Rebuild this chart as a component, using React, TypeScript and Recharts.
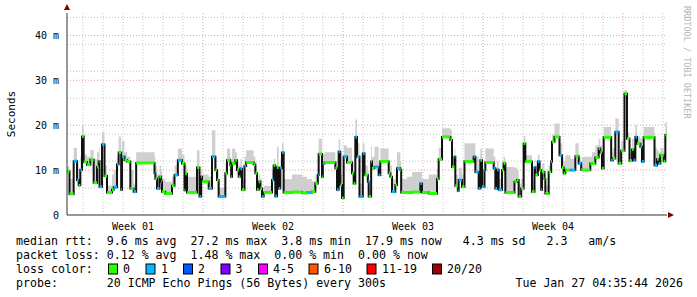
import { Area, CartesianGrid, ComposedChart, Line, ReferenceDot, ReferenceLine, XAxis, YAxis } from "recharts";

// time in hours since the start of the 30 day window
const hours = [
  0, 3, 8, 12, 14, 16, 18, 20, 24, 28, 32, 36, 38, 39, 42, 45, 48, 54, 56, 60,
  62, 65, 66, 69, 72, 76, 80, 83, 105, 106, 108, 111, 113, 114, 118, 126, 129, 133, 138, 141,
  142, 144, 156, 159, 161, 162, 170, 174, 178, 180, 182, 190, 192, 196, 197, 198, 202, 204, 206, 208,
  210, 213, 215, 224, 226, 228, 230, 232, 234, 236, 246, 248, 250, 252, 254, 256, 258, 260, 270, 282,
  288, 294, 298, 301, 302, 306, 307, 309, 322, 324, 326, 328, 330, 332, 336, 342, 344, 346, 348, 351,
  355, 357, 361, 362, 365, 366, 369, 374, 376, 386, 388, 390, 394, 396, 400, 401, 408, 414, 424, 426,
  434, 444, 446, 450, 460, 462, 465, 466, 469, 470, 474, 477, 488, 490, 494, 496, 498, 501, 502, 512,
  514, 516, 518, 522, 524, 526, 537, 540, 542, 545, 548, 550, 558, 561, 562, 565, 567, 569, 570, 573,
  574, 578, 581, 582, 585, 591, 594, 596, 598, 604, 610, 614, 617, 618, 628, 630, 634, 638, 640, 642,
  644, 653, 655, 658, 662, 665, 669, 672, 675, 678, 680, 682, 684, 688, 690, 692, 705, 708, 710, 712,
  716, 718, 720,
];

// median rtt in ms
const median = [
  9.7, 4.7, 12, 7.8, 6.6, 10, 17.5, 11.8, 11.2, 12.3, 7.2, 10.7, 12, 6.3, 15.7, 8.7, 5, 5.6, 6.2, 11.3,
  13.9, 5.6, 13, 12.2, 11.9, 5.9, 5.2, 11.6, 9.3, 8.1, 5.9, 8.5, 7.4, 5.2, 4.8, 6.5, 8.9, 12.2, 11.5, 5.5,
  9.2, 5, 10.6, 4.1, 8.5, 7.4, 5.9, 13, 10, 7.8, 4.1, 9.3, 12.2, 11.1, 8.5, 11.5, 12.2, 10, 8.5, 10.3,
  5.6, 10.9, 11.7, 11.3, 9.3, 5.6, 7.4, 5.9, 4.1, 5, 7.8, 11, 4.2, 10.6, 5.9, 10.4, 13.9, 5, 5.1, 4.9,
  5, 5.2, 7, 8.9, 13.6, 8.5, 11.5, 11.7, 10.4, 5.6, 14.1, 6.7, 3.8, 13, 11.7, 9.3, 7, 17.4, 13, 4.1,
  13.7, 8.9, 7.4, 4.1, 11.9, 10.4, 10.7, 8.9, 11.9, 9.3, 8.5, 5.2, 6.7, 10.4, 10, 5, 5, 5.1, 7, 5,
  4.8, 8, 12.4, 17.4, 16.7, 10.7, 13, 6.5, 5.4, 7.8, 6.3, 11.9, 13, 9.6, 5.9, 12.2, 6.3, 10, 11.7, 10.4,
  5.9, 10.1, 5.6, 10, 11.5, 5, 7.4, 7.8, 4.1, 5.9, 15.9, 11.9, 5.2, 10.6, 8.9, 11.9, 10, 5.6, 9.6, 8,
  4.8, 9.6, 11.9, 16.3, 17.4, 13.3, 10.6, 9.3, 10, 10, 13.1, 11.5, 10.1, 10, 11.5, 11.5, 12.8, 14.8, 13.9, 10.4,
  17.3, 12.2, 12.6, 18.5, 11.5, 14.3, 27, 17, 12.1, 14.6, 12.2, 17.4, 15.9, 15.2, 11.9, 17.3, 11.1, 12.4, 11.5, 13.3,
  12, 17.8, 17.8,
];

// upper edge of the smoke (slowest pings) in ms
const smokeTop = [
  10.8, 8, 15, 12, 10.5, 13, 20, 13.5, 13, 14.5, 12.5, 14, 15, 10, 18.5, 11, 6.5, 9, 10, 13,
  17.5, 8, 16.5, 14, 13, 10, 7, 14, 13, 11, 9, 11, 10, 8, 7.4, 8.5, 11, 14.8, 13.5, 8,
  11, 8.5, 14.4, 7, 10, 9, 8.5, 18.9, 13, 10, 6, 11.5, 14.8, 13, 11, 14.8, 14, 12, 11, 12.5,
  8, 13, 14.4, 13, 11, 8, 9, 8, 6, 6.5, 10, 12.5, 6, 15.2, 8, 12.5, 16, 8, 9, 8.5,
  8, 7.5, 9, 13, 17, 12, 13.5, 14, 12, 9, 16.8, 9, 6, 15.5, 15, 12, 9, 21.3, 16, 7,
  16, 11, 10, 6, 15.2, 13, 15.2, 12, 14.8, 12, 11, 8, 9, 14, 12, 8, 8.5, 9.6, 9.6, 8,
  9, 10, 15, 19.3, 19, 13, 15, 9, 8, 10.5, 9, 16, 16, 13, 9, 14.8, 9, 12, 14.8, 13,
  9, 12, 8, 12, 13, 10.7, 10.5, 10, 7, 8, 17.6, 13.3, 7.5, 12.5, 11, 13.5, 12, 8, 11.5, 10,
  6.5, 11, 14, 18, 20.4, 16, 13, 12, 13.3, 12.5, 16, 13, 12, 13, 13, 14, 15.5, 17, 15.5, 13,
  19.6, 14, 15, 21.5, 14, 16.5, 27.8, 18.5, 14, 17, 14, 20, 17.5, 17, 14, 19.6, 15, 14.5, 14, 15,
  14, 20.7, 20.7,
];

// lost pings out of 20 for each step
const loss = [
  0, 0, 1, 1, 0, 1, 0, 0, 0, 0, 0, 0, 0, 1, 1, 0, 0, 0, 1, 1,
  0, 1, 1, 0, 0, 0, 1, 0, 1, 0, 1, 0, 1, 0, 0, 0, 1, 1, 0, 0,
  0, 0, 0, 1, 0, 0, 1, 1, 0, 0, 1, 0, 0, 0, 1, 0, 0, 0, 0, 1,
  0, 1, 0, 0, 0, 0, 0, 0, 1, 0, 1, 0, 1, 0, 1, 1, 1, 0, 0, 0,
  1, 0, 0, 1, 0, 0, 1, 0, 0, 1, 1, 0, 0, 1, 0, 0, 0, 1, 1, 1,
  1, 0, 1, 0, 0, 0, 1, 1, 0, 0, 0, 1, 0, 1, 0, 0, 0, 0, 1, 0,
  0, 0, 0, 0, 0, 0, 1, 0, 1, 1, 0, 0, 1, 1, 1, 0, 1, 1, 0, 1,
  1, 1, 1, 0, 0, 0, 0, 0, 0, 0, 0, 0, 0, 1, 0, 1, 0, 1, 0, 0,
  0, 0, 0, 0, 0, 1, 0, 0, 0, 1, 0, 1, 0, 0, 0, 0, 0, 0, 0, 0,
  0, 1, 0, 1, 0, 0, 0, 0, 0, 0, 1, 1, 0, 1, 1, 0, 1, 0, 1, 0,
  0, 0, 0,
];

const lossColors = ["#26ff00", "#00b8ff", "#0059ff", "#7e00ff", "#ff00ff", "#ff5500", "#ff0000", "#a10000"];
const lossLabels = ["0", "1", "2", "3", "4-5", "6-10", "11-19", "20/20"];

const yTicks = [0, 10, 20, 30, 40];
const yMinor = [2, 4, 6, 8, 12, 14, 16, 18, 22, 24, 26, 28, 32, 34, 36, 38, 42, 44];
const weekTicks = [79.2, 247.2, 415.2, 583.2];
const weekLabels = ["Week 01", "Week 02", "Week 03", "Week 04"];
const weekLines = [163.2, 331.2, 499.2, 667.2];
const dayLines = [
  19.2, 43.2, 67.2, 91.2, 115.2, 139.2, 187.2, 211.2, 235.2, 259.2, 283.2, 307.2, 355.2, 379.2, 403.2,
  427.2, 451.2, 475.2, 523.2, 547.2, 571.2, 595.2, 619.2, 643.2, 691.2, 715.2,
];

const statsRtt = "median rtt:  9.6 ms avg  27.2 ms max  3.8 ms min  17.9 ms now   4.3 ms sd   2.3   am/s";
const statsLoss = "packet loss: 0.12 % avg  1.48 % max  0.00 % min  0.00 % now";
const probeText = "probe:       20 ICMP Echo Pings (56 Bytes) every 300s";
const stamp = "Tue Jan 27 04:35:44 2026";
const boxX = [108.5, 146, 183.5, 221, 258.5, 309, 367, 432.5];
const boxLabelX = [123, 161, 198, 235.5, 273, 324, 382, 447];

const rows = hours.map((h, i) => ({ h, median: median[i], smoke: [median[i], smokeTop[i]] }));

const mono = "'DejaVu Sans Mono', monospace";

const upArrow = (p: any) => (
  <path d={`M${p.cx - 3} ${p.cy - 3} L${p.cx} ${p.cy - 9} L${p.cx + 3} ${p.cy - 3} Z`} fill="#800000" />
);
const rightArrow = (p: any) => (
  <path d={`M${p.cx + 1} ${p.cy - 3} L${p.cx + 7} ${p.cy} L${p.cx + 1} ${p.cy + 3} Z`} fill="#800000" />
);

export default function App() {
  return (
    <div style={{ position: "absolute", left: 0, top: 0, width: 697, height: 297, background: "#fff" }}>
      <ComposedChart width={697} height={297} data={rows} margin={{ top: 13, right: 30, left: 7, bottom: 62 }}>
        <CartesianGrid
          horizontalValues={yMinor}
          verticalValues={dayLines}
          stroke="#c4c4c4"
          strokeDasharray="1 2"
        />
        <CartesianGrid
          horizontalValues={[10, 20, 30, 40]}
          verticalValues={weekLines}
          stroke="#e2a0a0"
          strokeDasharray="1 2"
        />
        <XAxis
          dataKey="h"
          type="number"
          domain={[0, 720]}
          ticks={weekTicks}
          tickFormatter={(v: number) => weekLabels[weekTicks.indexOf(v)]}
          tickLine={false}
          axisLine={{ stroke: "#333" }}
          height={20}
          tick={{ fontFamily: mono, fontSize: 10, fill: "#000" }}
        />
        <YAxis
          type="number"
          domain={[0, 45]}
          ticks={yTicks}
          allowDataOverflow
          tickFormatter={(v: number) => (v === 0 ? "0" : `${v} m`)}
          tickLine={false}
          axisLine={{ stroke: "#333" }}
          width={60}
          tick={{ fontFamily: mono, fontSize: 10, fill: "#000" }}
        />
        <Area
          dataKey="smoke"
          type="stepAfter"
          fill="#cfcfcf"
          fillOpacity={1}
          stroke="none"
          isAnimationActive={false}
        />
        <Line
          dataKey="median"
          type="stepAfter"
          stroke="#111"
          strokeWidth={2}
          dot={false}
          isAnimationActive={false}
        />
        {hours.slice(0, -1).map((h, i) => (
          <ReferenceLine
            key={`seg${i}`}
            segment={[
              { x: h, y: median[i] },
              { x: hours[i + 1], y: median[i] },
            ]}
            stroke={lossColors[loss[i]]}
            strokeWidth={3}
            zIndex={450}
          />
        ))}
        <ReferenceDot x={0} y={45} ifOverflow="visible" shape={upArrow} />
        <ReferenceDot x={720} y={0} ifOverflow="visible" shape={rightArrow} />
      </ComposedChart>
      <svg
        width={697}
        height={297}
        style={{ position: "absolute", left: 0, top: 0, pointerEvents: "none" }}
        fontFamily={mono}
      >
        <text x={15} y={114} fontSize={11} textAnchor="middle" transform="rotate(-90 15 114)" fill="#000">
          Seconds
        </text>
        <text x={684} y={6} fontSize={8.5} fill="#b4b4b4" transform="rotate(90 684 6)">
          RRDTOOL / TOBI OETIKER
        </text>
        <g fontSize={11.6} fill="#000" style={{ whiteSpace: "pre" }}>
          <text x={16} y={245} xmlSpace="preserve">{statsRtt}</text>
          <text x={16} y={259} xmlSpace="preserve">{statsLoss}</text>
          <text x={16} y={273}>loss color:</text>
          {lossLabels.map((l, i) => (
            <g key={l}>
              <rect x={boxX[i]} y={264} width={9} height={10} fill={lossColors[i]} stroke="#000" strokeWidth={1} />
              <text x={boxLabelX[i]} y={273}>{l}</text>
            </g>
          ))}
          <text x={16} y={287} xmlSpace="preserve">{probeText}</text>
          <text x={683} y={287} textAnchor="end">{stamp}</text>
        </g>
      </svg>
    </div>
  );
}
